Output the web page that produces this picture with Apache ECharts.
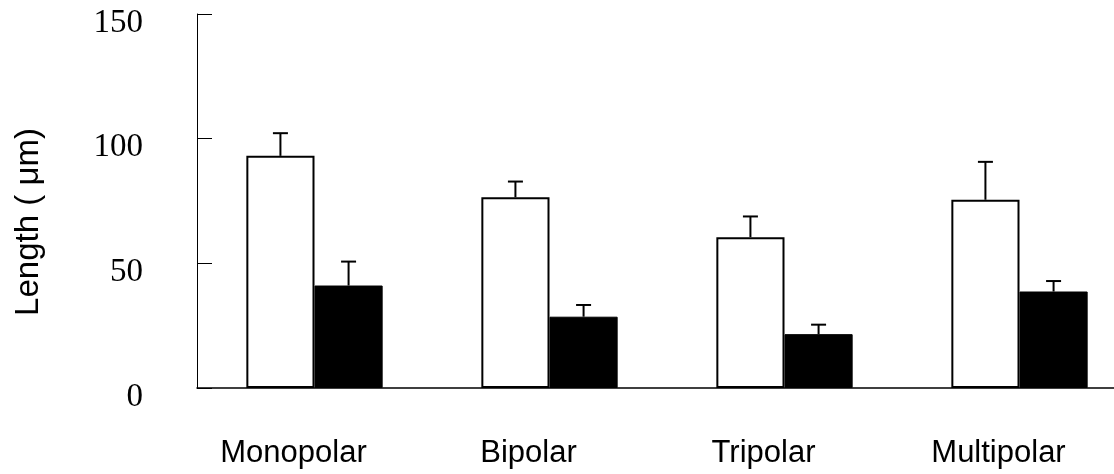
<!DOCTYPE html>
<html>
<head>
<meta charset="utf-8">
<script src="https://cdn.jsdelivr.net/npm/echarts@6/dist/echarts.min.js"></script>
<style>
  html, body { margin: 0; padding: 0; background: #fff; }
  #chart { width: 1114px; height: 474px; }
</style>
</head>
<body>
<div id="chart"></div>
<script>
// categories and values
const categories = ['Monopolar', 'Bipolar', 'Tripolar', 'Multipolar']
const whiteMean = [93.1, 76.5, 60.5, 75.5]
const whiteSD = [9.1, 6.3, 8.3, 15.2]
const blackMean = [41.1, 28.6, 21.6, 38.7]
const blackSD = [9.6, 4.7, 3.8, 4.2]
const yTicks = [0, 50, 100, 150]

const barFrac = 0.29

// error bar (upper half only) drawn as a custom series
function errorSeries(means, sds, side) {
  return {
    type: 'custom',
    z: 5,
    data: means.map((m, i) => [i, m, sds[i]]),
    renderItem: function (params, api) {
      const i = api.value(0)
      const m = api.value(1)
      const sd = api.value(2)
      const band = api.size([1, 0])[0]
      const w = band * barFrac
      const base = api.coord([i, m])
      const top = api.coord([i, m + sd])
      const x = base[0] + side * w / 2
      const cap = 7.5
      const st = { stroke: '#000', lineWidth: 2 }
      return {
        type: 'group',
        children: [
          { type: 'line', shape: { x1: x, y1: base[1], x2: x, y2: top[1] }, style: st },
          { type: 'line', shape: { x1: x - cap, y1: top[1], x2: x + cap, y2: top[1] }, style: st }
        ]
      }
    }
  }
}

const chart = echarts.init(document.getElementById('chart'))
chart.setOption({
  backgroundColor: '#fff',
  animation: false,
  // the x axis runs past the right edge of the picture
  grid: { left: 197, top: 14, bottom: 86, width: 940, outerBoundsMode: 'none' },
  xAxis: {
    type: 'category',
    data: categories,
    axisLine: { lineStyle: { color: '#000', width: 1.5 } },
    axisTick: { show: false },
    axisLabel: {
      color: '#000',
      fontFamily: 'Liberation Sans',
      fontSize: 31,
      margin: 50,
      padding: [0, 42, 0, 0]
    }
  },
  yAxis: {
    type: 'value',
    min: yTicks[0],
    max: yTicks[yTicks.length - 1],
    interval: 50,
    name: 'Length ( μm)',
    nameLocation: 'middle',
    nameRotate: 90,
    nameGap: 152,
    nameTextStyle: {
      color: '#000',
      fontFamily: 'Liberation Sans',
      fontSize: 33,
      padding: [0, 42, 0, 0]
    },
    axisLine: { show: true, lineStyle: { color: '#000', width: 1 } },
    axisTick: { show: true, inside: true, length: 15, lineStyle: { color: '#000' } },
    splitLine: { show: false },
    axisLabel: {
      color: '#000',
      fontFamily: 'Liberation Serif',
      fontSize: 33,
      margin: 54,
      verticalAlign: 'top',
      lineHeight: 18
    }
  },
  series: [
    {
      type: 'bar',
      data: whiteMean,
      barWidth: (barFrac * 100) + '%',
      barGap: '0%',
      itemStyle: { color: '#fff', borderColor: '#000', borderWidth: 2 }
    },
    {
      type: 'bar',
      data: blackMean,
      barWidth: (barFrac * 100) + '%',
      barGap: '0%',
      itemStyle: { color: '#000', borderColor: '#000', borderWidth: 1 }
    },
    errorSeries(whiteMean, whiteSD, -1),
    errorSeries(blackMean, blackSD, 1)
  ]
})
</script>
</body>
</html>
